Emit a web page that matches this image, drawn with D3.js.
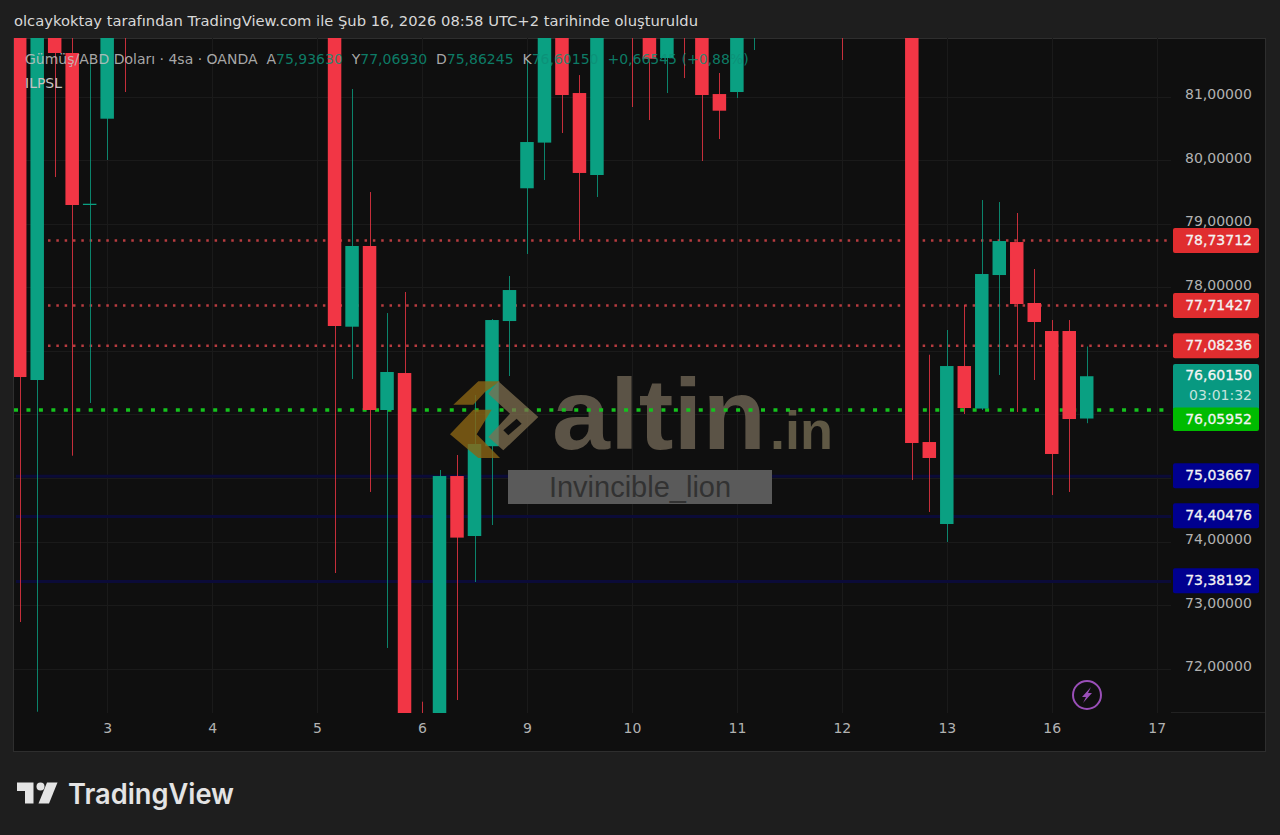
<!DOCTYPE html>
<html><head><meta charset="utf-8">
<script src="https://cdn.jsdelivr.net/npm/d3@7/dist/d3.min.js"></script>
<style>html,body{margin:0;padding:0;background:#1e1e1e;overflow:hidden}svg{display:block}</style>
</head><body><svg id="c" width="1280" height="835"></svg>
<script>
// ---- data ----
const titleText = "olcaykoktay tarafından TradingView.com ile Şub 16, 2026 08:58 UTC+2 tarihinde oluşturuldu";
const barIndex = [0,1,2,3,4,5,6,18,19,20,21,22,23,24,25,26,27,28,29,30,31,32,33,35,36,37,38,39,40,41,42,47,51,52,53,54,55,56,57,58,59,60,61];
const opens  = [83,76.542,82.6,81.688,79.296,80.654,83,83,77.381,78.651,76.07,76.652,71.2,71.0,75.031,74.087,75.5,77.47,79.559,80.278,82.5,81.058,79.768,83,82.6,81.609,83,82.5,81.042,81.074,82.5,83.2,83,75.566,74.276,76.762,76.093,78.194,78.713,77.754,77.313,77.313,75.936];
const closes = [76.589,82.5,81.688,79.296,79.316,82.5,82.6,77.392,78.651,76.07,76.668,71.2,71.0,75.031,74.062,75.535,77.486,77.958,80.287,82.5,81.027,79.8,82.5,82.6,81.598,82.6,82.5,81.027,80.78,82.5,82.8,82.8,75.551,75.315,76.762,76.101,78.21,78.729,77.738,77.455,75.378,75.928,76.6015];
const highs  = [83,83,82.9,82.9,81.53,83,83.2,83,81.121,79.5,77.596,77.927,71.48,75.126,75.362,76.306,77.5,78.179,81.578,83,83,81.341,83,83,83,83,83.2,83,81.373,83,83,83.4,83.2,76.94,77.329,77.722,79.374,79.343,79.17,78.289,77.486,77.486,77.0693];
const lows   = [72.734,71.322,79.736,75.351,76.18,80.004,81.074,73.505,76.558,74.78,72.325,71.2,70.9,70.9,71.506,73.363,74.26,76.605,78.525,79.689,80.429,78.745,79.422,80.838,80.633,81.058,81.294,79.988,80.334,80.98,81.735,81.578,74.968,74.465,73.993,76.007,76.07,76.621,76.038,76.542,74.732,74.78,75.86245];
const redLevels = [78.73712,77.71427,77.08236];
const greenLevels = [76.05952];
const blueLevels = [75.03667,74.40476,73.38192];
const lastClose = 76.6015;
const countdown = "03:01:32";
const gridTicks = [72,73,74,75,76,77,78,79,80,81];
const priceLabels = [72,73,74,78,79,80,81];
const dayLabels = ["3","4","5","6","9","10","11","12","13","16","17"];
const dayBars = [5,11,17,23,29,35,41,47,53,59,65];
const legendParts = [["Gümüş/ABD Doları · 4sa · OANDA  A","l"],["75,93630","v"],["  Y","l"],["77,06930","v"],["  D","l"],["75,86245","v"],["  K","l"],["76,60150","v"],["  +0,66545 (+0,88%)","v"]];

// ---- style ----
const FONT = "'DejaVu Sans', sans-serif";
const UP = "#0aa082", DOWN = "#f23645";
const nf = d3.formatLocale({decimal:",",thousands:".",grouping:[3]}).format(".5f");

const svg = d3.select("#c");
const pane = {l:14,r:1171,t:38,b:713};
const x = d3.scaleLinear().domain([0,65]).range([19.7,1156.7]);
const y = d3.scaleLinear().domain([71.302,81.924]).range([pane.b,pane.t]);

svg.append("rect").attr("width",1280).attr("height",835).attr("fill","#1e1e1e");
svg.append("rect").attr("x",13.5).attr("y",38.5).attr("width",1252).attr("height",713).attr("fill","#0f0f0f").attr("stroke","#2e2e2e");
const defs = svg.append("defs");
defs.append("clipPath").attr("id","pc").append("rect").attr("x",pane.l).attr("y",pane.t).attr("width",pane.r-pane.l).attr("height",pane.b-pane.t);

svg.append("text").attr("x",14).attr("y",26).attr("fill","#d8d8d8").attr("font-family",FONT).attr("font-size",14).attr("textLength",684).attr("lengthAdjust","spacingAndGlyphs").text(titleText);

// axes
const yAxis = d3.axisRight(y).tickValues(priceLabels).tickSize(0).tickPadding(0).tickFormat(nf);
const yG = svg.append("g").attr("transform","translate(1185,0)").call(yAxis);
yG.select(".domain").remove();
yG.selectAll("text").attr("fill","#b2b2b2").attr("font-family",FONT).attr("font-size",14).attr("dy","0.15em");
const xAxis = d3.axisBottom(x).tickValues(dayBars).tickSize(0).tickPadding(0).tickFormat((d,i)=>dayLabels[i]);
const xG = svg.append("g").attr("transform","translate(0,725)").call(xAxis);
xG.select(".domain").remove();
xG.selectAll("text").attr("fill","#b2b2b2").attr("font-family",FONT).attr("font-size",14).attr("dy","0.6em");

// grid
const gridG = svg.append("g").attr("clip-path","url(#pc)");
gridG.selectAll("line.h").data(gridTicks).join("line").attr("x1",pane.l).attr("x2",pane.r)
  .attr("y1",d=>Math.round(y(d))+.5).attr("y2",d=>Math.round(y(d))+.5).attr("stroke","#1a1a1a");
gridG.selectAll("line.v").data(dayBars).join("line").attr("y1",pane.t).attr("y2",pane.b)
  .attr("x1",d=>Math.round(x(d))+.5).attr("x2",d=>Math.round(x(d))+.5).attr("stroke","#1a1a1a");
svg.append("line").attr("x1",pane.r).attr("x2",1265).attr("y1",712.5).attr("y2",712.5).attr("stroke","#222");

// watermark text under the levels
const wm = svg.append("g").attr("font-family","'Liberation Sans',sans-serif").attr("font-weight",700).attr("fill","#5b5346");
wm.append("text").attr("x",552).attr("y",449).attr("font-size",100).attr("textLength",214).attr("lengthAdjust","spacingAndGlyphs").text("altin");
wm.append("text").attr("x",770).attr("y",449).attr("font-size",54).attr("fill","#5f5844").text(".in");

// levels (behind candles)
const lv = svg.append("g").attr("clip-path","url(#pc)");
lv.selectAll("line.b").data(blueLevels).join("line").attr("x1",16).attr("x2",pane.r)
  .attr("y1",d=>y(d)+.6).attr("y2",d=>y(d)+.6).attr("stroke","#0b0b38").attr("stroke-width",3);
lv.selectAll("line.r").data(redLevels).join("line").attr("x1",48).attr("x2",pane.r)
  .attr("y1",d=>y(d)).attr("y2",d=>y(d)).attr("stroke","#b83c40").attr("stroke-width",2.5).attr("stroke-dasharray","2.5 5.83");
lv.selectAll("line.g").data(greenLevels).join("line").attr("x1",14).attr("x2",pane.r)
  .attr("y1",d=>y(d)-.6).attr("y2",d=>y(d)-.6).attr("stroke","#14c21e").attr("stroke-width",3.5).attr("stroke-dasharray","4 8.45");

// candles
const bars = barIndex.map((b,i)=>({b,o:opens[i],c:closes[i],h:highs[i],l:lows[i]}));
const cg = svg.append("g").attr("clip-path","url(#pc)");
const col = d=>d.c>=d.o?UP:DOWN;
cg.selectAll("line.w").data(bars).join("line")
  .attr("x1",d=>Math.round(x(d.b))+.5).attr("x2",d=>Math.round(x(d.b))+.5)
  .attr("y1",d=>y(d.h)).attr("y2",d=>y(d.l)).attr("stroke",d=>col(d)).attr("stroke-opacity",.8);
cg.selectAll("rect.b").data(bars).join("rect")
  .attr("x",d=>x(d.b)-6.75).attr("width",13.5)
  .attr("y",d=>y(Math.max(d.o,d.c))).attr("height",d=>Math.max(1,Math.abs(y(d.o)-y(d.c)))).attr("fill",col);

// watermark logo on top of candles
const logo = svg.append("g").attr("transform","translate(445,372) scale(0.3333)");
const lp = (pts,fill,op)=>logo.append("polygon").attr("points",pts.map(p=>p.join(",")).join(" ")).attr("fill",fill).attr("fill-opacity",op);
lp([[25,98],[100,28],[165,28],[120,60],[85,98]],"#8a6414",.8);
lp([[15,187],[85,113],[140,113],[95,187],[165,258],[100,258]],"#8a6414",.8);
lp([[160,28],[280,135],[175,235],[130,195],[195,125],[130,65]],"#7f6f50",.75);
lp([[175,175],[215,140],[230,155],[190,190]],"#0f0f0f",1);

svg.append("rect").attr("x",508).attr("y",470).attr("width",264).attr("height",34).attr("fill","#5a5a5a");
svg.append("text").attr("x",640).attr("y",497).attr("text-anchor","middle").attr("font-family","'Liberation Sans',sans-serif")
  .attr("font-size",29).attr("fill","#323232").text("Invincible_lion");

// legend
const lg = svg.append("text").attr("x",25).attr("y",64).attr("font-family",FONT).attr("font-size",14).style("white-space","pre");
lg.selectAll("tspan").data(legendParts).join("tspan").attr("fill",d=>d[1]==="l"?"#c4c4c4":"#0d8f77").attr("fill-opacity",.85).text(d=>d[0]);
svg.append("text").attr("x",25).attr("y",88).attr("font-family",FONT).attr("font-size",14).attr("fill","#c4c4c4").text("ILPSL");

// price labels
const labelG = svg.append("g").attr("font-family",FONT).attr("font-size",14).attr("text-anchor","end");
function tag(v,fill,h=25){
  const g=labelG.append("g").attr("transform",`translate(1173,${y(v)-h/2})`);
  g.append("rect").attr("width",86).attr("height",h).attr("rx",2).attr("fill",fill);
  g.append("text").attr("x",79).attr("y",h/2+4.5).attr("fill","#f4f4f4").attr("stroke","#f4f4f4").attr("stroke-width",.3).text(nf(v));
}
redLevels.forEach(v=>tag(v,"#e02d2f"));
blueLevels.forEach(v=>tag(v,"#00008f"));
{
  const g=labelG.append("g").attr("transform","translate(1173,364)");
  g.append("rect").attr("width",86).attr("height",46).attr("rx",2).attr("fill","#089981");
  g.append("text").attr("x",79).attr("y",16).attr("fill","#f4f4f4").attr("stroke","#f4f4f4").attr("stroke-width",.3).text(nf(lastClose));
  g.append("text").attr("x",79).attr("y",36).attr("fill","#c4e4dd").text(countdown);
}
{
  const g=labelG.append("g").attr("transform","translate(1173,407.5)");
  g.append("rect").attr("width",86).attr("height",23.5).attr("rx",2).attr("fill","#00bb00");
  g.append("text").attr("x",79).attr("y",16.5).attr("fill","#f4f4f4").attr("stroke","#f4f4f4").attr("stroke-width",.3).text(nf(greenLevels[0]));
}

// bolt icon
const bolt = svg.append("g").attr("transform","translate(1087,695)");
bolt.append("circle").attr("r",14).attr("fill","none").attr("stroke","#9a4fb8").attr("stroke-width",2);
bolt.append("polygon").attr("points","4,-8 -5,2 -1,2 -4,8 5,-2 1,-2").attr("fill","#9a4fb8");

// footer logo
const f = svg.append("g").attr("fill","#e4e4e4");
f.append("polygon").attr("points","17,782.5 33.5,782.5 33.5,803.5 25,803.5 25,791 17,791");
f.append("circle").attr("cx",40.5).attr("cy",786.5).attr("r",4);
f.append("polygon").attr("points","47,782.5 57.5,782.5 49,803.5 38.5,803.5");
f.append("text").attr("x",68).attr("y",804).attr("font-family","Inter,sans-serif").attr("font-weight",600).attr("font-size",28).attr("textLength",166).attr("lengthAdjust","spacingAndGlyphs").text("TradingView");
</script></body></html>
